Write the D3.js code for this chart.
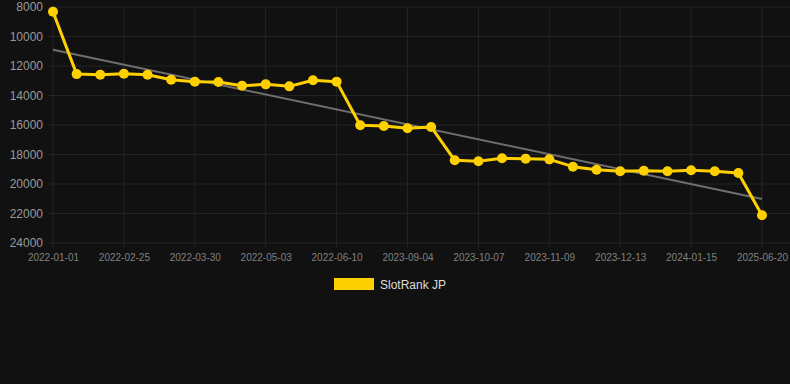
<!DOCTYPE html>
<html>
<head>
<meta charset="utf-8">
<script src="https://cdn.jsdelivr.net/npm/d3@7"></script>
<style>
  body { margin: 0; background: #111111; }
  svg { display: block; font-family: "Liberation Sans", Arial, sans-serif; }
</style>
</head>
<body>
<div class="chart"></div>
<script>
var svgWidth = 790;
var svgHeight = 384;

// Dates on the x axis (only every third one is labelled)
var dates = [
  "2022-01-01", "2022-01-19", "2022-02-07", "2022-02-25", "2022-03-08", "2022-03-19",
  "2022-03-30", "2022-04-10", "2022-04-21", "2022-05-03", "2022-05-15", "2022-05-28",
  "2022-06-10", "2022-06-23", "2022-07-05", "2023-09-04", "2023-09-15", "2023-09-26",
  "2023-10-07", "2023-10-18", "2023-10-29", "2023-11-09", "2023-11-20", "2023-12-01",
  "2023-12-13", "2023-12-24", "2024-01-04", "2024-01-15", "2024-01-26", "2024-02-06",
  "2025-06-20"
];

// SlotRank JP rank values
var ranks = [
  8320, 12550, 12590, 12520, 12590, 12930, 13060, 13085, 13335, 13245, 13380, 12970,
  13060, 16020, 16070, 16225, 16135, 18395, 18460, 18260, 18280, 18330, 18825, 19030,
  19140, 19100, 19140, 19070, 19140, 19250, 22120
];

var yTicks = [8000, 10000, 12000, 14000, 16000, 18000, 20000, 22000, 24000];
var seriesName = "SlotRank JP";

var margin = { top: 7, right: 28, bottom: 141, left: 53 };
var width = svgWidth - margin.left - margin.right;
var height = svgHeight - margin.top - margin.bottom;

var svg = d3.select(".chart")
  .append("svg")
  .attr("width", svgWidth)
  .attr("height", svgHeight);

var chartGroup = svg.append("g")
  .attr("transform", `translate(${margin.left}, ${margin.top})`);

var xScale = d3.scalePoint().domain(dates).range([0, width]);
var yScale = d3.scaleLinear().domain([8000, 24000]).range([0, height]);

var labelled = dates.filter(function(d, i) { return i % 3 === 0; });

// grid
chartGroup.append("g")
  .selectAll("line")
  .data(yTicks)
  .join("line")
  .attr("x1", -5)
  .attr("x2", svgWidth - margin.left)
  .attr("y1", d => yScale(d))
  .attr("y2", d => yScale(d))
  .attr("stroke", "#242424")
  .attr("stroke-width", 1);

chartGroup.append("g")
  .selectAll("line")
  .data(labelled)
  .join("line")
  .attr("x1", d => xScale(d))
  .attr("x2", d => xScale(d))
  .attr("y1", 0)
  .attr("y2", height + 5)
  .attr("stroke", "#242424")
  .attr("stroke-width", 1);

// y axis labels
var yAxis = d3.axisLeft(yScale).tickValues(yTicks).tickSize(0).tickPadding(10).tickFormat(d3.format("d"));
chartGroup.append("g")
  .call(yAxis)
  .call(g => g.select(".domain").remove())
  .selectAll("text")
  .attr("fill", "#9a9a9a")
  .style("font-size", "12px");

// x axis labels
var xAxis = d3.axisBottom(xScale).tickValues(labelled).tickSize(0).tickPadding(11);
chartGroup.append("g")
  .attr("transform", `translate(0, ${height})`)
  .call(xAxis)
  .call(g => g.select(".domain").remove())
  .selectAll("text")
  .attr("fill", "#808080")
  .style("font-size", "10px");

// linear trend (least squares over index)
var n = ranks.length;
var mx = d3.mean(ranks, (d, i) => i);
var my = d3.mean(ranks);
var sxy = d3.sum(ranks, (d, i) => (i - mx) * (d - my));
var sxx = d3.sum(ranks, (d, i) => (i - mx) * (i - mx));
var slope = sxy / sxx;
var intercept = my - slope * mx;
var trend = [0, n - 1].map(i => ({ date: dates[i], value: intercept + slope * i }));

chartGroup.append("path")
  .datum(trend)
  .attr("fill", "none")
  .attr("stroke", "#6e6e6e")
  .attr("stroke-width", 2)
  .attr("d", d3.line().x(d => xScale(d.date)).y(d => yScale(d.value)));

// series
var points = dates.map((d, i) => ({ date: d, value: ranks[i] }));

chartGroup.append("path")
  .datum(points)
  .attr("fill", "none")
  .attr("stroke", "#ffd000")
  .attr("stroke-width", 3)
  .attr("stroke-linejoin", "round")
  .attr("d", d3.line().x(d => xScale(d.date)).y(d => yScale(d.value)));

chartGroup.append("g")
  .selectAll("circle")
  .data(points)
  .join("circle")
  .attr("cx", d => xScale(d.date))
  .attr("cy", d => yScale(d.value))
  .attr("r", 5)
  .attr("fill", "#ffd000");

// legend
var legend = svg.append("g").attr("transform", "translate(334, 278)");
legend.append("rect")
  .attr("width", 40)
  .attr("height", 12)
  .attr("fill", "#ffd000");
legend.append("text")
  .attr("x", 46)
  .attr("y", 10.5)
  .attr("fill", "#dddddd")
  .style("font-size", "12px")
  .text(seriesName);
</script>
</body>
</html>
